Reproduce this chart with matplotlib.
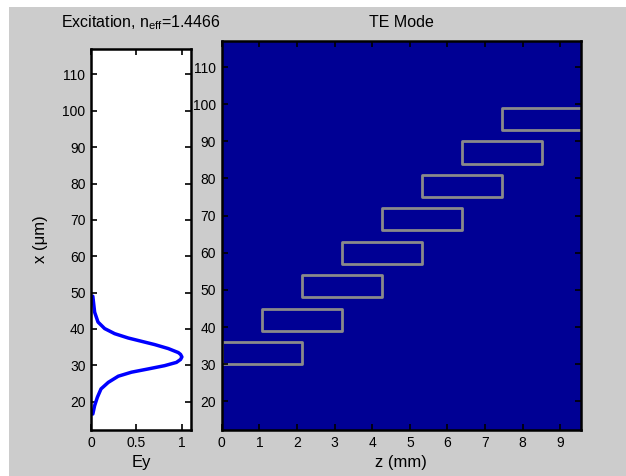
import numpy as np
import matplotlib
matplotlib.use('Agg')
import matplotlib.pyplot as plt
from matplotlib.patches import Rectangle

plt.rcParams['font.family'] = ['Liberation Sans Narrow', 'Liberation Sans', 'DejaVu Sans']
plt.rcParams['font.size'] = 10

# excitation mode profile
mode_x = [16.6, 18.9, 21.2, 23.5, 25.3, 27.0, 28.1, 29.0, 29.9, 30.8,
          31.6, 32.3, 33.0, 33.5, 34.6, 35.7, 36.6, 37.5, 38.7, 40.1,
          41.9, 44.6, 49.0]
mode_ey = [0.02, 0.04, 0.07, 0.11, 0.19, 0.30, 0.445, 0.63, 0.81, 0.94,
           0.985, 1.0, 0.985, 0.96, 0.85, 0.70, 0.555, 0.41, 0.26, 0.15,
           0.077, 0.04, 0.02]

# waveguide segments: start z (mm), lower x edge (um)
wg_z0 = [0.0, 1.07, 2.13, 3.20, 4.26, 5.33, 6.39, 7.46]
wg_x0 = [30, 39, 48, 57, 66, 75, 84, 93]
wg_len = 2.13
wg_w = 6.0

W, H = 626, 476
fig = plt.figure(figsize=(W / 100, H / 100), dpi=100, facecolor='white')
# gray window area (screenshot has thin white margin at top/left)
fig.patches.append(Rectangle((9 / W, 0), 1 - 9 / W, 1 - 7 / H, transform=fig.transFigure,
                             facecolor='#cccccc', edgecolor='none', zorder=-10))

def fx(px):
    return px / W

def fy(py):
    return 1 - py / H

ax1 = fig.add_axes([fx(91), fy(430), fx(191) - fx(91), fy(49) - fy(430)])
ax2 = fig.add_axes([fx(221.7), fy(430), fx(581) - fx(221.7), fy(41) - fy(430)])

# left panel: mode profile
ax1.set_facecolor('white')
ax1.plot(mode_ey, mode_x, color='#0000ff', lw=2.5, solid_capstyle='round',
         solid_joinstyle='round')
ax1.set_xlim(0, 1.1)
ax1.set_ylim(12.2, 117)
ax1.set_xticks([0, 0.5, 1])
ax1.set_xticklabels(['0', '0.5', '1'])
ax1.set_yticks(range(20, 111, 10))

# right panel: waveguide layout
ax2.set_facecolor('#000094')
for z0, x0 in zip(wg_z0, wg_x0):
    ax2.add_patch(Rectangle((z0, x0), wg_len, wg_w, facecolor='none',
                            edgecolor='#8a8a8a', lw=2.0, joinstyle='round'))
ax2.set_xlim(0, 9.55)
ax2.set_ylim(12.3, 117)
ax2.set_xticks(range(0, 10))
ax2.set_yticks(range(20, 111, 10))

for ax in (ax1, ax2):
    ax.tick_params(direction='in', top=True, right=True, length=4, width=1.2,
                   labelsize=10, pad=4, color='black')
    for s in ax.spines.values():
        s.set_linewidth(1.8)
        s.set_color('black')

fig.text(fx(141), fy(27), 'Excitation, n$_{\\mathregular{eff}}$=1.4466', ha='center',
         va='baseline', fontsize=11.5)
fig.text(fx(401), fy(27), 'TE Mode', ha='center', va='baseline', fontsize=11.5)
ax1.set_xlabel('Ey', fontsize=12, labelpad=4)
ax2.set_xlabel('z (mm)', fontsize=12, labelpad=4)
ax1.set_ylabel('x (μm)', fontsize=12, labelpad=10)

fig.savefig('out.png', dpi=100, facecolor=fig.get_facecolor())
